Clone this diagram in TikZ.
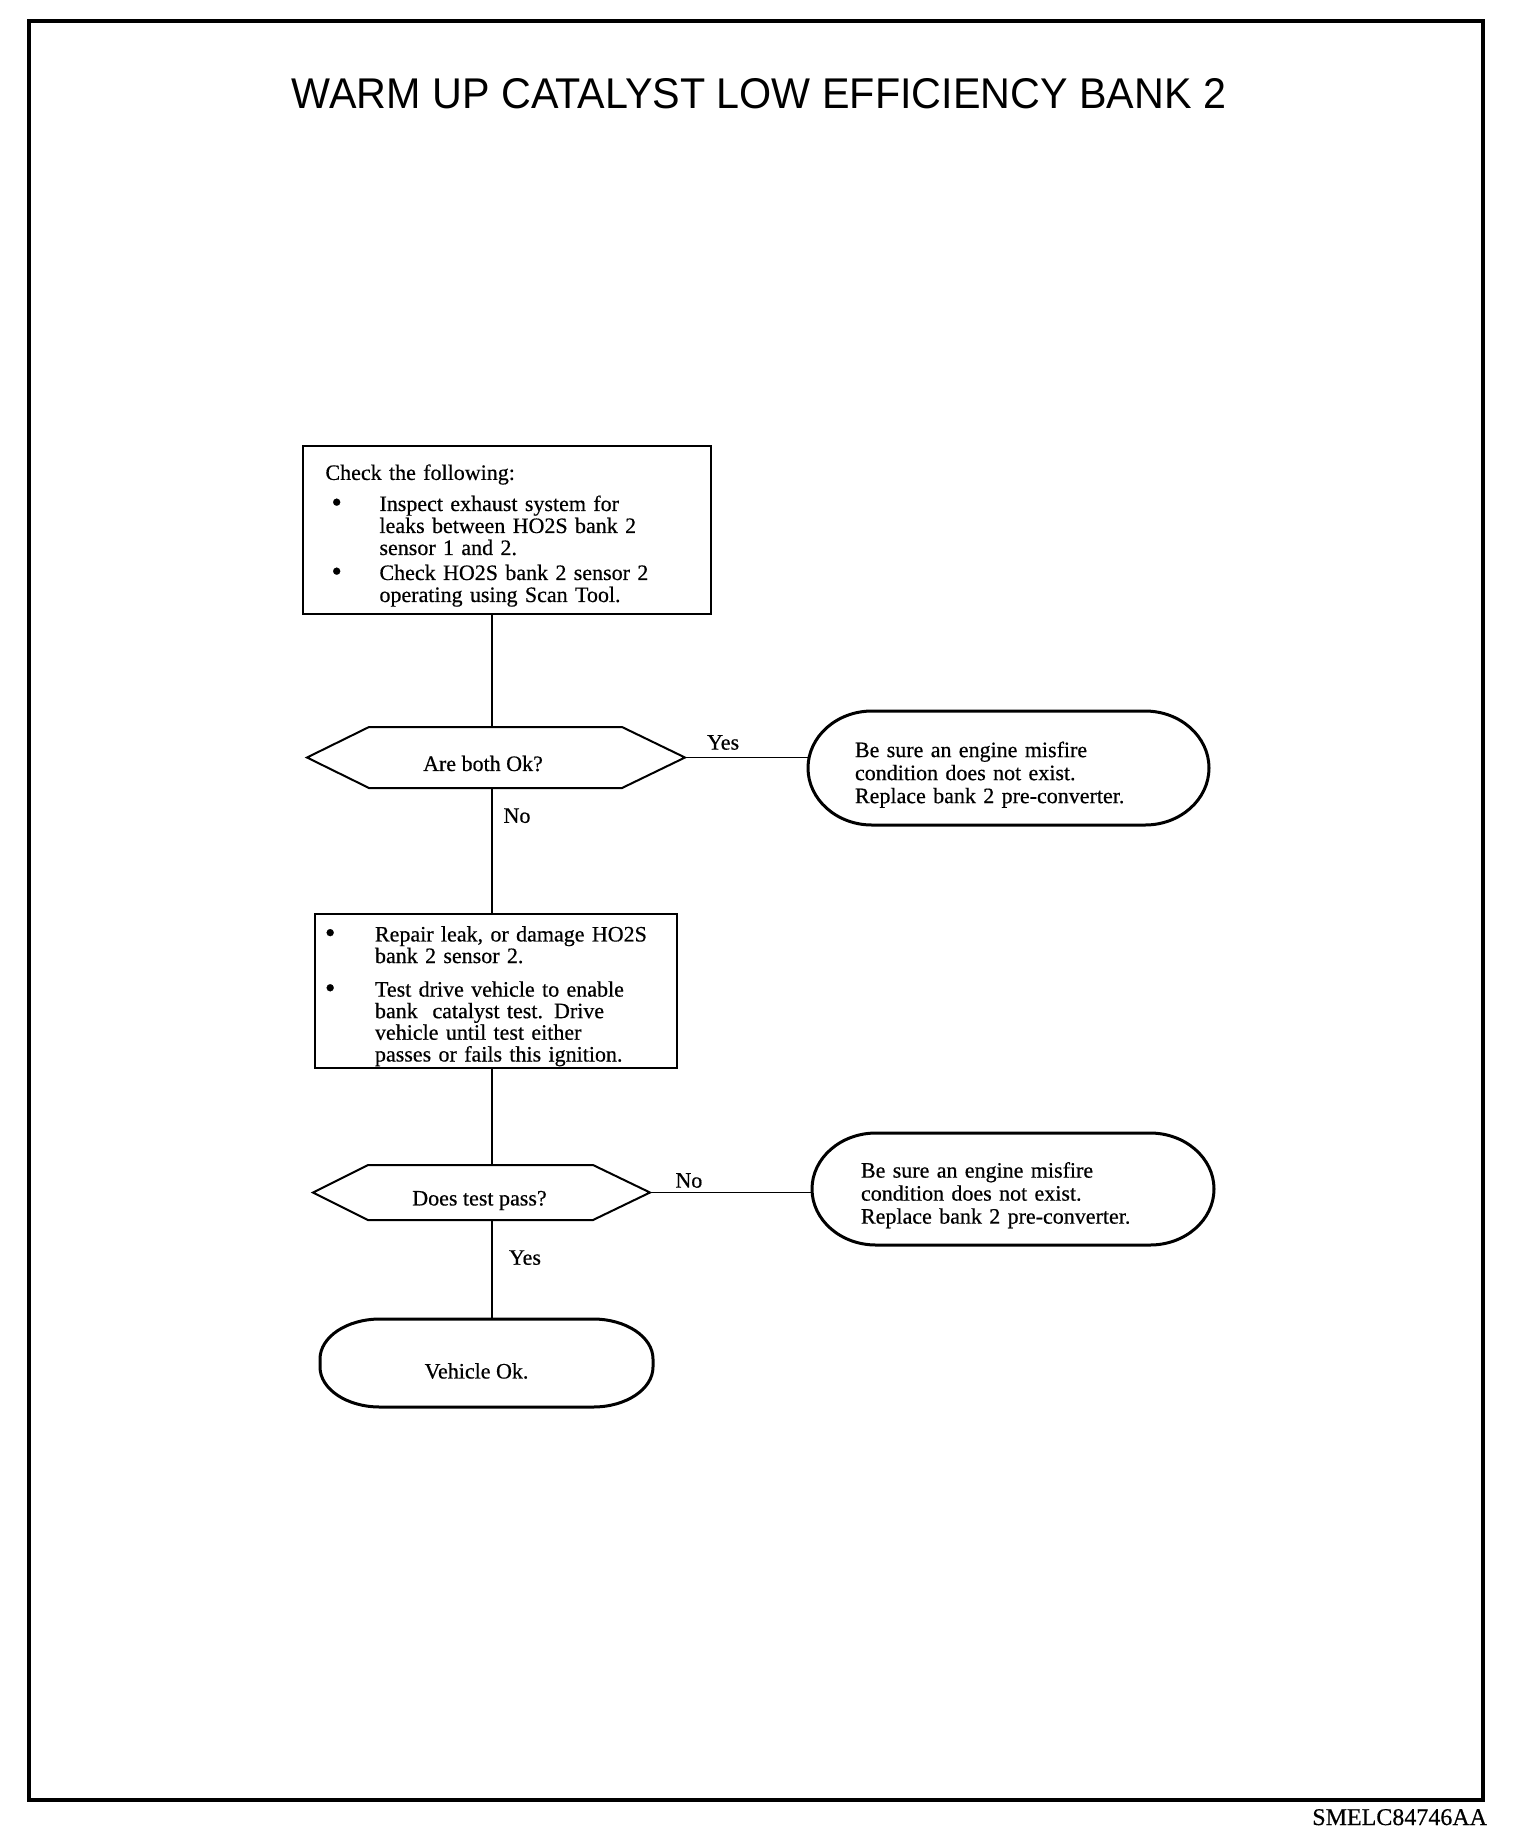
\documentclass[tikz,border=0pt]{standalone}
\usepackage{fontspec}
\usepackage{graphicx}
\setmainfont{Liberation Serif}[FakeBold=0.5]
\newfontfamily\bodyfont{Liberation Serif}[FakeBold=0.5]
\newfontfamily\titlefont{Liberation Sans}
\usetikzlibrary{calc}
\newcommand\termoutline[3]{%
\draw[termline] ($(#1.north west)+(#2,0)$) -- ($(#1.north east)+(-#2,0)$)
 .. controls +(0.552*#2,0) and +(0,-0.552*#3) .. ($(#1.north east)+(0,#3)$)
 -- ($(#1.south east)+(0,-#3)$)
 .. controls +(0,0.552*#3) and +(0.552*#2,0) .. ($(#1.south east)+(-#2,0)$)
 -- ($(#1.south west)+(#2,0)$)
 .. controls +(-0.552*#2,0) and +(0,0.552*#3) .. ($(#1.south west)+(0,-#3)$)
 -- ($(#1.north west)+(0,#3)$)
 .. controls +(0,-0.552*#3) and +(-0.552*#2,0) .. ($(#1.north west)+(#2,0)$) -- cycle;}
\newcommand\hexoutline[3]{%
\draw[hexline] ($(#1.north west)+(#2,0)$) -- ($(#1.north east)+(-#3,0)$) -- (#1.east)
 -- ($(#1.south east)+(-#3,0)$) -- ($(#1.south west)+(#2,0)$) -- (#1.west) -- cycle;}
\newcommand\lowered[2]{\raisebox{-#1}[\height][\depth]{#2}}
\newcommand\bigbullet{\raisebox{-1pt}{\scalebox{1.35}{\textbullet}}}
\begin{document}
\begin{tikzpicture}[x=1pt,y=-1pt,
  every node/.style={font=\bodyfont\fontsize{22}{21}\selectfont, inner sep=0pt, outer sep=0pt},
  boxstyle/.style={draw, line width=2pt, rectangle, align=left},
  hexnode/.style={rectangle, draw=none},
  termnode/.style={rectangle, draw=none, align=left, font=\bodyfont\fontsize{22}{23}\selectfont},
  hexline/.style={line width=2pt, line join=miter},
  termline/.style={line width=3pt},
  conn/.style={line width=1.8pt},
  frame/.style={line width=4.5pt}]
\useasboundingbox (0,0) rectangle (1536,1848);
\draw[frame] (29,21) rectangle (1483,1800);

\node[font=\titlefont\fontsize{43}{43}\selectfont] (title) at (759,94)
  {\scalebox{0.96}[1]{WARM UP CATALYST LOW EFFICIENCY BANK 2}};

% box 1
\node[boxstyle, minimum width=408pt, minimum height=168pt, text width=363pt,
  font=\bodyfont\fontsize{22}{22}\selectfont] (box1) at (507,530)
{\lowered{6.5pt}{\begin{tabular}{@{}l@{}l@{}}
\multicolumn{2}{@{}l@{}}{Check the following:}\\[9pt]
\makebox[54pt][l]{\hspace*{6pt}\bigbullet} & Inspect exhaust system for\\
 & leaks between HO2S bank 2\\
 & sensor 1 and 2.\\[3pt]
\makebox[54pt][l]{\hspace*{6pt}\bigbullet} & Check HO2S bank 2 sensor 2\\
 & operating using Scan Tool.
\end{tabular}}};

% decision 1
\node[hexnode, minimum width=378pt, minimum height=61pt,
  label={[xshift=-13pt, yshift=-6pt]center:Are both Ok?}] (h1) at (496,757.5) {};
\hexoutline{h1}{62}{63}

% terminal 1
\node[termnode, minimum width=401pt, minimum height=114pt, text width=307pt] (t1) at (1008.5,768)
{\lowered{7.5pt}{\begin{tabular}{@{}l@{}}Be sure an engine misfire\\ condition does not exist.\\ Replace bank 2 pre-converter.\end{tabular}}};
\termoutline{t1}{64}{57}

% box 2
\node[boxstyle, minimum width=362pt, minimum height=154pt, text width=348pt] (box2) at (496,991)
{\lowered{6pt}{\begin{tabular}{@{}l@{}l@{}}
\makebox[53pt][l]{\hspace*{3pt}\bigbullet} & Repair leak, or damage HO2S\\
 & bank 2 sensor 2.\\[12pt]
\makebox[53pt][l]{\hspace*{3pt}\bigbullet} & Test drive vehicle to enable\\
 & bank\ \ catalyst test. Drive\\
 & vehicle until test either\\
 & passes or fails this ignition.
\end{tabular}}};

% decision 2
\node[hexnode, minimum width=337pt, minimum height=55pt,
  label={[xshift=-2pt, yshift=-8pt]center:Does test pass?}] (h2) at (481.5,1192.5) {};
\hexoutline{h2}{55}{57}

% terminal 2
\node[termnode, minimum width=402pt, minimum height=112pt, text width=304pt] (t2) at (1013,1189)
{\lowered{7pt}{\begin{tabular}{@{}l@{}}Be sure an engine misfire\\ condition does not exist.\\ Replace bank 2 pre-converter.\end{tabular}}};
\termoutline{t2}{64}{56}

% terminal 3
\node[termnode, minimum width=333pt, minimum height=88pt,
  label={[xshift=-10pt, yshift=-8pt]center:Vehicle Ok.}] (t3) at (486.5,1363) {};
\termoutline{t3}{60}{40}

% connectors
\coordinate (spine) at (492,0);
\draw[conn] (box1.south -| spine) -- (h1.north -| spine);
\draw[conn] (h1.south -| spine) -- node[pos=0.22, xshift=25pt] {No} (box2.north -| spine);
\draw[conn] (h1.east) -- node[pos=0.31, yshift=15pt] {Yes} (h1.east -| t1.west);
\draw[conn] (box2.south -| spine) -- (h2.north -| spine);
\draw[conn] (h2.east) -- node[pos=0.24, yshift=12pt] {No} (h2.east -| t2.west);
\draw[conn] (h2.south -| spine) -- node[pos=0.38, xshift=33pt] {Yes} (t3.north -| spine);

\node[anchor=base east, font=\bodyfont\fontsize{24}{24}\selectfont] (code) at (1487,1825) {SMELC84746AA};
\end{tikzpicture}
\end{document}
